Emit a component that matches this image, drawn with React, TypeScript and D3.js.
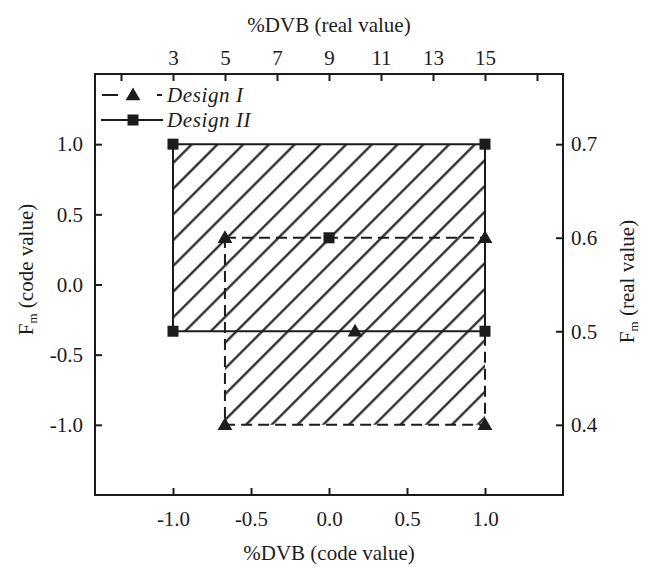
import { useEffect, useRef } from "react";
import * as d3 from "d3";

// coded values, both designs
const design1Corners: [number, number][] = [
  [-0.667, 0.333],
  [1, 0.333],
  [1, -1],
  [-0.667, -1],
];
const design1Center: [number, number] = [0.167, -0.333];
const design2Corners: [number, number][] = [
  [-1, 1],
  [1, 1],
  [1, -0.333],
  [-1, -0.333],
];
const design2Center: [number, number] = [0, 0.333];

const codeTicks = [-1, -0.5, 0, 0.5, 1];
const dvbRealTicks = [1, 3, 5, 7, 9, 11, 13, 15, 17];
const dvbRealLabels = [3, 5, 7, 9, 11, 13, 15];
const fmRealTicks = [0.4, 0.5, 0.6, 0.7];

const legendNames = ["Design I", "Design II"];

const FONT = "'Liberation Serif', 'Times New Roman', serif";
const INK = "#1c1c1c";
const FS = 21;

// plain hyphen like the original, not the unicode minus
const fmt1 = (d: d3.NumberValue) => d3.format(".1f")(d).replace("−", "-");

export default function App() {
  const width = 645;
  const height = 567;
  const margin = { top: 74, right: 82, bottom: 72, left: 95 };
  const innerW = width - margin.left - margin.right;
  const innerH = height - margin.top - margin.bottom;

  const x = d3.scaleLinear().domain([-1.5, 1.5]).range([0, innerW]);
  const y = d3.scaleLinear().domain([-1.5, 1.5]).range([innerH, 0]);
  // real scales: %DVB = 9 + 6*code, Fm = 0.55 + 0.15*code
  const xReal = d3.scaleLinear().domain([0, 18]).range([0, innerW]);
  const yReal = d3.scaleLinear().domain([0.325, 0.775]).range([innerH, 0]);

  const axesRef = useRef<SVGGElement>(null);

  useEffect(() => {
    const g = d3.select(axesRef.current);
    g.selectAll("*").remove();

    const bottom = g
      .append("g")
      .attr("transform", `translate(0,${innerH})`)
      .call(
        d3.axisBottom(x).tickValues(codeTicks).tickSize(-7).tickPadding(16).tickFormat(fmt1)
      );
    const left = g
      .append("g")
      .call(
        d3.axisLeft(y).tickValues(codeTicks).tickSize(-7).tickPadding(12).tickFormat(fmt1)
      );
    const top = g
      .append("g")
      .call(
        d3
          .axisTop(xReal)
          .tickValues(dvbRealTicks)
          .tickSize(-7)
          .tickPadding(9)
          .tickFormat((d) =>
            dvbRealLabels.includes(d as number) ? String(d) : ""
          )
      );
    const right = g
      .append("g")
      .attr("transform", `translate(${innerW},0)`)
      .call(
        d3.axisRight(yReal).tickValues(fmRealTicks).tickSize(-7).tickPadding(8).tickFormat(fmt1)
      );

    [bottom, left, top, right].forEach((a) => {
      a.select(".domain").remove();
      a.selectAll("line").attr("stroke", INK).attr("stroke-width", 2);
      a.selectAll("text")
        .attr("fill", INK)
        .style("font-family", FONT)
        .style("font-size", FS + "px");
    });
  }, [innerW, innerH]);

  const rectOf = (pts: [number, number][]) => {
    const xs = pts.map((p) => x(p[0]));
    const ys = pts.map((p) => y(p[1]));
    const x0 = d3.min(xs)!;
    const y0 = d3.min(ys)!;
    return { x: x0, y: y0, w: d3.max(xs)! - x0, h: d3.max(ys)! - y0 };
  };
  // union of both rectangles as one path (same winding, nonzero fill)
  const unionPath = [rectOf(design1Corners), rectOf(design2Corners)]
    .map((r) => `M${r.x},${r.y}h${r.w}v${r.h}h${-r.w}Z`)
    .join("");

  const closed = d3
    .line<[number, number]>()
    .x((d) => x(d[0]))
    .y((d) => y(d[1]))
    .curve(d3.curveLinearClosed);

  const tri = d3.symbol(d3.symbolTriangle, 95)();
  const sq = 11;

  const triangle = (px: number, py: number, k: string) => (
    <path key={k} d={tri || ""} transform={`translate(${px},${py + 1})`} fill={INK} />
  );
  const square = (px: number, py: number, k: string) => (
    <rect key={k} x={px - sq / 2} y={py - sq / 2} width={sq} height={sq} fill={INK} />
  );

  return (
    <svg
      width={width}
      height={height}
      style={{ position: "absolute", left: 0, top: 0, background: "#fff" }}
    >
      <defs>
        <pattern
          id="hatch"
          patternUnits="userSpaceOnUse"
          width={18.2}
          height={18.2}
          patternTransform="rotate(45)"
        >
          <line x1={9} y1={0} x2={9} y2={18.2} stroke={INK} strokeWidth={2.2} />
        </pattern>
      </defs>

      {/* titles */}
      <text x={margin.left + x(0)} y={32} textAnchor="middle" fontFamily={FONT} fontSize={FS} fill={INK}>
        %DVB (real value)
      </text>
      <text x={margin.left + x(0)} y={560} textAnchor="middle" fontFamily={FONT} fontSize={FS} fill={INK}>
        %DVB (code value)
      </text>
      <text
        transform={`translate(33,${margin.top + y(0) - 15}) rotate(-90)`}
        textAnchor="middle"
        fontFamily={FONT}
        fontSize={FS}
        fill={INK}
      >
        F<tspan fontSize={13} dy={4}>m</tspan>
        <tspan dy={-4}> (code value)</tspan>
      </text>
      <text
        transform={`translate(634,${margin.top + y(0) - 3}) rotate(-90)`}
        textAnchor="middle"
        fontFamily={FONT}
        fontSize={FS}
        fill={INK}
      >
        F<tspan fontSize={13} dy={4}>m</tspan>
        <tspan dy={-4}> (real value)</tspan>
      </text>

      <g transform={`translate(${margin.left},${margin.top})`}>
        {/* hatched region covered by the designs */}
        <path d={unionPath} fill="url(#hatch)" fillRule="nonzero" />

        {/* Design II solid */}
        <path d={closed(design2Corners) || ""} fill="none" stroke={INK} strokeWidth={2} />
        {/* Design I dashed */}
        <path
          d={closed(design1Corners) || ""}
          fill="none"
          stroke={INK}
          strokeWidth={2}
          strokeDasharray="11,6"
        />

        {design1Corners.map((p, i) => triangle(x(p[0]), y(p[1]), `t${i}`))}
        {triangle(x(design1Center[0]), y(design1Center[1]), "tc")}
        {design2Corners.map((p, i) => square(x(p[0]), y(p[1]), `s${i}`))}
        {square(x(design2Center[0]), y(design2Center[1]), "sc")}

        {/* legend */}
        <g transform="translate(7,21)">
          <line x1={0} y1={0} x2={60} y2={0} stroke={INK} strokeWidth={2} strokeDasharray="16,39,6" />
          {triangle(31, 0, "lt")}
          <text x={65} y={7} fontFamily={FONT} fontStyle="italic" fontSize={FS} letterSpacing={0.6} fill={INK}>
            {legendNames[0]}
          </text>
          <line x1={-1} y1={25} x2={61} y2={25} stroke={INK} strokeWidth={2} />
          {square(31, 25, "ls")}
          <text x={65} y={32} fontFamily={FONT} fontStyle="italic" fontSize={FS} letterSpacing={0.6} fill={INK}>
            {legendNames[1]}
          </text>
        </g>

        <rect x={0} y={0} width={innerW} height={innerH} fill="none" stroke={INK} strokeWidth={2} />
        <g ref={axesRef} />
      </g>
    </svg>
  );
}
